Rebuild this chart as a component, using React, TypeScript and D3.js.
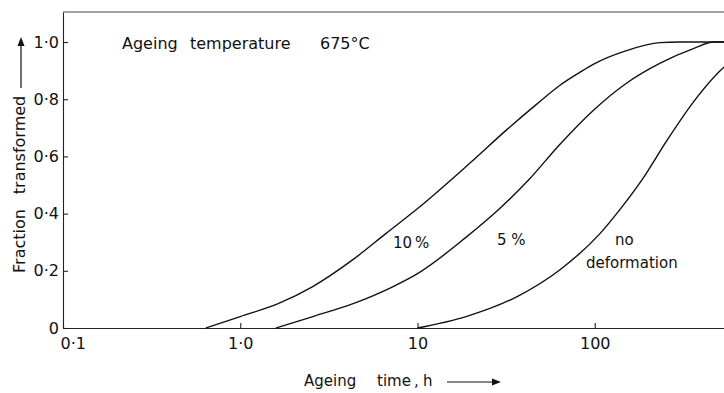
import React, { useEffect, useRef } from 'react';
import * as d3 from 'd3';

// ageing time (h) and fraction transformed
const timeTen = [0.64, 1.0, 1.66, 2.55, 4.3, 6.65, 10.3, 19.7, 31.7, 46.9, 63.4, 82, 98, 151, 233, 300, 1000];
const fracTen = [0, 0.04, 0.087, 0.144, 0.238, 0.331, 0.424, 0.576, 0.692, 0.782, 0.848, 0.893, 0.922, 0.97, 0.998, 1.0, 1.0];

const timeFive = [1.59, 2.57, 4.37, 7.24, 10, 18.6, 28.8, 42.7, 63.1, 97.7, 151, 234, 363, 468, 1000];
const fracFive = [0, 0.04, 0.086, 0.144, 0.19, 0.315, 0.415, 0.52, 0.64, 0.76, 0.856, 0.926, 0.978, 1.0, 1.0];

const timeNone = [10, 18.8, 36.5, 63.4, 107, 141, 188, 255, 360, 532, 794, 1000];
const fracNone = [0, 0.04, 0.11, 0.203, 0.33, 0.42, 0.525, 0.655, 0.79, 0.91, 0.975, 1.0];

const xTicks = [0.1, 1, 10, 100];
const xTickLabels = ['0·1', '1·0', '10', '100'];
const yTicks = [0, 0.2, 0.4, 0.6, 0.8, 1.0];
const yTickLabels = ['0', '0·2', '0·4', '0·6', '0·8', '1·0'];

const FONT = '"DejaVu Sans", sans-serif';

const App = () => {
    const ref = useRef<SVGSVGElement>(null);

    useEffect(() => {
        const width = 724;
        const height = 393;
        const svg = d3.select(ref.current);
        svg.selectAll('*').remove();
        svg.attr('width', width).attr('height', height);

        const x = d3.scaleLog().domain([0.1, 1000]).range([63, 772]);
        const y = d3.scaleLinear().domain([0, 1.105]).range([328, 12]);

        // frame top
        svg.append('line')
            .attr('x1', x(0.1)).attr('x2', x(1000))
            .attr('y1', y(1.105)).attr('y2', y(1.105))
            .attr('stroke', '#444').attr('stroke-width', 1);

        const xAxis = svg.append('g')
            .attr('transform', `translate(0,${y(0)})`)
            .call(d3.axisBottom(x)
                .tickValues(xTicks)
                .tickFormat((d, i) => xTickLabels[i])
                .tickSize(-5)
                .tickSizeOuter(0)
                .tickPadding(10));

        const yAxis = svg.append('g')
            .attr('transform', `translate(${x(0.1)},0)`)
            .call(d3.axisLeft(y)
                .tickValues(yTicks)
                .tickFormat((d, i) => yTickLabels[i])
                .tickSize(-5)
                .tickSizeOuter(0)
                .tickPadding(4));

        [xAxis, yAxis].forEach(g => {
            g.attr('font-family', FONT).attr('font-size', 16);
            g.selectAll('path, line').attr('stroke', '#222').attr('stroke-width', 1.1);
            g.selectAll('text').attr('fill', '#111');
        });

        // first x label sits to the right of the corner
        xAxis.selectAll('.tick text')
            .filter((d, i) => i === 0)
            .attr('text-anchor', 'start')
            .attr('dx', -3);

        const line = d3.line<[number, number]>()
            .x(d => x(d[0]))
            .y(d => y(d[1]))
            .curve(d3.curveMonotoneX);

        const series = [
            d3.zip(timeTen, fracTen),
            d3.zip(timeFive, fracFive),
            d3.zip(timeNone, fracNone),
        ];

        svg.append('g')
            .selectAll('path')
            .data(series)
            .join('path')
            .attr('d', d => line(d as [number, number][]))
            .attr('fill', 'none')
            .attr('stroke', '#111')
            .attr('stroke-width', 1.4);

        // text labels
        const labels = [
            { t: 'Ageing', x: 122, y: 49, s: 16 },
            { t: 'temperature', x: 190, y: 49, s: 16 },
            { t: '675°C', x: 320, y: 49, s: 16 },
            { t: '10\u2009%', x: 393, y: 248, s: 15 },
            { t: '5 %', x: 497, y: 245, s: 15 },
            { t: 'no', x: 615, y: 245, s: 15 },
            { t: 'deformation', x: 586, y: 268, s: 15 },
            { t: 'Ageing', x: 304, y: 386, s: 15 },
            { t: 'time', x: 377, y: 386, s: 15 },
            { t: ',', x: 414, y: 386, s: 15 },
            { t: 'h', x: 423, y: 386, s: 15 },
        ];
        svg.append('g')
            .attr('font-family', FONT)
            .attr('fill', '#111')
            .selectAll('text')
            .data(labels)
            .join('text')
            .attr('x', d => d.x)
            .attr('y', d => d.y)
            .attr('font-size', d => d.s)
            .text(d => d.t);

        // y title
        const yTitle = svg.append('g')
            .attr('font-family', FONT)
            .attr('font-size', 16)
            .attr('fill', '#111')
            .attr('text-anchor', 'middle');
        yTitle.append('text')
            .attr('transform', 'translate(25,241) rotate(-90)')
            .text('Fraction');
        yTitle.append('text')
            .attr('transform', 'translate(25,145) rotate(-90)')
            .text('transformed');

        // arrows
        svg.append('line')
            .attr('x1', 21).attr('x2', 21).attr('y1', 88).attr('y2', 44)
            .attr('stroke', '#111').attr('stroke-width', 1.2);
        svg.append('path')
            .attr('d', 'M21,37 L17.5,46 L24.5,46 Z')
            .attr('fill', '#111');
        svg.append('line')
            .attr('x1', 447).attr('x2', 494).attr('y1', 382).attr('y2', 382)
            .attr('stroke', '#111').attr('stroke-width', 1.2);
        svg.append('path')
            .attr('d', 'M501,382 L492,378.5 L492,385.5 Z')
            .attr('fill', '#111');
    }, []);

    return (
        <svg ref={ref} style={{ position: 'absolute', left: 0, top: 0, background: '#fff' }} />
    );
};

export default App;
